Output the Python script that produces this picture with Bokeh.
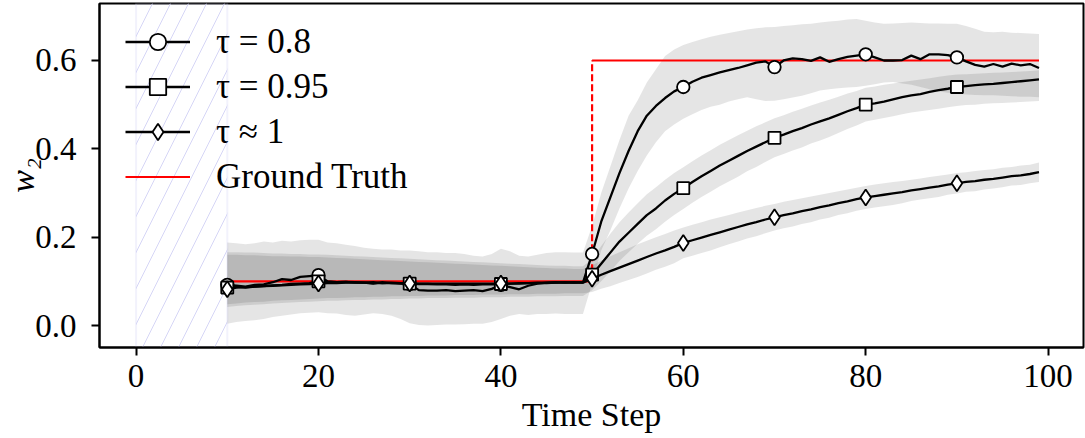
from bokeh.plotting import figure
from bokeh.models import Legend, LegendItem, BoxAnnotation, FixedTicker, Range1d
from bokeh.embed import file_html
from bokeh.resources import INLINE

# ---------------- data ----------------
steps = list(range(10, 100))
marker_every = 10
warmup_start, warmup_end = 0, 10
truth_before, truth_after, change_step, last_step = 0.1, 0.6, 50, 99

x_ticks = [0, 20, 40, 60, 80, 100]
y_ticks = [0.0, 0.2, 0.4, 0.6]

labels = ["τ = 0.8", "τ = 0.95", "τ ≈ 1", "Ground Truth"]
x_label = "Time Step"
y_label = "w₂"

mean_08 = [
    0.092, 0.090, 0.088, 0.092, 0.093, 0.098, 0.105, 0.103, 0.110, 0.112,
    0.114, 0.100, 0.098, 0.099, 0.097, 0.097, 0.095, 0.098, 0.096, 0.095,
    0.094, 0.080, 0.079, 0.079, 0.080, 0.078, 0.079, 0.080, 0.078, 0.083,
    0.092, 0.087, 0.082, 0.090, 0.095, 0.097, 0.098, 0.097, 0.098, 0.097,
    0.162, 0.235, 0.290, 0.345, 0.395, 0.440, 0.475, 0.497, 0.515, 0.530,
    0.540, 0.552, 0.561, 0.567, 0.573, 0.578, 0.583, 0.589, 0.595, 0.598,
    0.585, 0.600, 0.605, 0.603, 0.599, 0.607, 0.597, 0.603, 0.608, 0.611,
    0.614, 0.607, 0.600, 0.600, 0.601, 0.611, 0.603, 0.614, 0.614, 0.612,
    0.607, 0.598, 0.590, 0.586, 0.592, 0.586, 0.593, 0.589, 0.592, 0.583,
]
lower_08 = [
    0.004, 0.008, 0.010, 0.012, 0.015, 0.019, 0.022, 0.025, 0.028, 0.029,
    0.030, 0.028, 0.027, 0.024, 0.022, 0.025, 0.028, 0.026, 0.022, 0.015,
    0.005, 0.001, 0.000, 0.001, 0.002, 0.002, 0.003, 0.004, 0.004, 0.008,
    0.015, 0.022, 0.026, 0.024, 0.026, 0.026, 0.027, 0.026, 0.026, 0.026,
    0.095, 0.170, 0.215, 0.265, 0.310, 0.350, 0.385, 0.415, 0.440, 0.455,
    0.468, 0.478, 0.488, 0.495, 0.500, 0.507, 0.512, 0.517, 0.512, 0.508,
    0.509, 0.512, 0.516, 0.520, 0.526, 0.532, 0.535, 0.537, 0.539, 0.540,
    0.543, 0.546, 0.550, 0.551, 0.548, 0.545, 0.540, 0.535, 0.530, 0.527,
    0.525, 0.523, 0.522, 0.521, 0.521, 0.520, 0.519, 0.518, 0.518, 0.517,
]
upper_08 = [
    0.188, 0.186, 0.184, 0.186, 0.190, 0.188, 0.192, 0.190, 0.193, 0.194,
    0.194, 0.188, 0.186, 0.183, 0.180, 0.176, 0.174, 0.172, 0.172, 0.170,
    0.170, 0.168, 0.166, 0.166, 0.164, 0.164, 0.162, 0.158, 0.156, 0.162,
    0.174, 0.168, 0.158, 0.156, 0.160, 0.164, 0.166, 0.166, 0.165, 0.165,
    0.225, 0.300, 0.360, 0.420, 0.475, 0.510, 0.550, 0.580, 0.610, 0.625,
    0.635, 0.642, 0.648, 0.654, 0.658, 0.662, 0.666, 0.670, 0.673, 0.675,
    0.676, 0.678, 0.680, 0.682, 0.683, 0.686, 0.688, 0.690, 0.693, 0.694,
    0.690, 0.686, 0.683, 0.684, 0.685, 0.686, 0.685, 0.684, 0.684, 0.683,
    0.683, 0.678, 0.672, 0.665, 0.664, 0.665, 0.663, 0.662, 0.661, 0.660,
]

mean_095 = [
    0.086, 0.088, 0.086, 0.088, 0.089, 0.091, 0.092, 0.094, 0.095, 0.096,
    0.100, 0.099, 0.098, 0.099, 0.098, 0.097, 0.098, 0.096, 0.097, 0.096,
    0.095, 0.094, 0.094, 0.093, 0.093, 0.092, 0.093, 0.092, 0.093, 0.093,
    0.094, 0.095, 0.095, 0.096, 0.097, 0.097, 0.097, 0.098, 0.097, 0.098,
    0.115, 0.140, 0.165, 0.190, 0.210, 0.230, 0.250, 0.265, 0.283, 0.298,
    0.311, 0.325, 0.338, 0.350, 0.362, 0.373, 0.384, 0.395, 0.405, 0.415,
    0.425, 0.432, 0.440, 0.447, 0.455, 0.462, 0.469, 0.477, 0.485, 0.492,
    0.500, 0.503, 0.507, 0.512, 0.517, 0.521, 0.524, 0.529, 0.533, 0.536,
    0.540, 0.542, 0.544, 0.546, 0.547, 0.549, 0.551, 0.553, 0.555, 0.557,
]
lower_095 = [
    0.042, 0.044, 0.046, 0.047, 0.048, 0.050, 0.051, 0.052, 0.053, 0.054,
    0.055, 0.056, 0.056, 0.057, 0.058, 0.058, 0.059, 0.059, 0.060, 0.060,
    0.061, 0.061, 0.062, 0.062, 0.062, 0.063, 0.063, 0.063, 0.064, 0.064,
    0.064, 0.065, 0.065, 0.065, 0.066, 0.066, 0.066, 0.067, 0.067, 0.067,
    0.080, 0.100, 0.122, 0.146, 0.166, 0.185, 0.203, 0.218, 0.235, 0.250,
    0.264, 0.278, 0.291, 0.303, 0.315, 0.326, 0.337, 0.349, 0.359, 0.370,
    0.381, 0.388, 0.396, 0.403, 0.412, 0.419, 0.427, 0.436, 0.445, 0.453,
    0.462, 0.466, 0.470, 0.474, 0.478, 0.482, 0.485, 0.488, 0.491, 0.494,
    0.497, 0.499, 0.500, 0.502, 0.503, 0.504, 0.505, 0.506, 0.507, 0.508,
]
upper_095 = [
    0.166, 0.166, 0.165, 0.165, 0.164, 0.163, 0.163, 0.162, 0.162, 0.161,
    0.161, 0.160, 0.159, 0.158, 0.157, 0.156, 0.155, 0.154, 0.153, 0.152,
    0.151, 0.150, 0.149, 0.148, 0.147, 0.146, 0.145, 0.144, 0.143, 0.142,
    0.141, 0.140, 0.139, 0.138, 0.137, 0.136, 0.135, 0.135, 0.134, 0.134,
    0.150, 0.180, 0.208, 0.234, 0.256, 0.277, 0.297, 0.313, 0.330, 0.345,
    0.358, 0.372, 0.385, 0.397, 0.409, 0.420, 0.431, 0.441, 0.451, 0.460,
    0.469, 0.476, 0.484, 0.491, 0.498, 0.505, 0.511, 0.518, 0.525, 0.531,
    0.538, 0.541, 0.545, 0.548, 0.551, 0.554, 0.557, 0.560, 0.563, 0.566,
    0.568, 0.569, 0.570, 0.571, 0.572, 0.573, 0.574, 0.575, 0.576, 0.578,
]

mean_1 = [
    0.082, 0.086, 0.087, 0.088, 0.089, 0.090, 0.091, 0.092, 0.093, 0.094,
    0.095, 0.096, 0.096, 0.097, 0.097, 0.097, 0.096, 0.096, 0.096, 0.096,
    0.095, 0.095, 0.095, 0.095, 0.095, 0.095, 0.095, 0.095, 0.095, 0.095,
    0.095, 0.095, 0.096, 0.096, 0.096, 0.096, 0.097, 0.097, 0.097, 0.097,
    0.106, 0.115, 0.123, 0.131, 0.139, 0.147, 0.155, 0.163, 0.170, 0.178,
    0.187, 0.193, 0.199, 0.205, 0.211, 0.217, 0.223, 0.229, 0.234, 0.240,
    0.245, 0.250, 0.254, 0.259, 0.263, 0.268, 0.272, 0.277, 0.281, 0.286,
    0.290, 0.293, 0.296, 0.299, 0.302, 0.306, 0.309, 0.312, 0.315, 0.319,
    0.322, 0.325, 0.327, 0.330, 0.332, 0.335, 0.338, 0.340, 0.343, 0.347,
]
lower_1 = [
    0.048, 0.050, 0.052, 0.053, 0.054, 0.056, 0.057, 0.058, 0.059, 0.060,
    0.061, 0.062, 0.062, 0.063, 0.064, 0.064, 0.065, 0.065, 0.066, 0.066,
    0.067, 0.067, 0.068, 0.068, 0.068, 0.069, 0.069, 0.069, 0.070, 0.070,
    0.070, 0.071, 0.071, 0.071, 0.072, 0.072, 0.072, 0.073, 0.073, 0.073,
    0.076, 0.083, 0.089, 0.096, 0.103, 0.110, 0.118, 0.126, 0.133, 0.141,
    0.152, 0.158, 0.164, 0.170, 0.177, 0.184, 0.190, 0.197, 0.202, 0.209,
    0.215, 0.220, 0.224, 0.230, 0.234, 0.240, 0.244, 0.250, 0.254, 0.260,
    0.264, 0.267, 0.270, 0.273, 0.277, 0.282, 0.285, 0.288, 0.291, 0.296,
    0.299, 0.303, 0.304, 0.308, 0.310, 0.313, 0.317, 0.318, 0.322, 0.325,
]
upper_1 = [
    0.160, 0.160, 0.159, 0.159, 0.158, 0.157, 0.157, 0.156, 0.156, 0.155,
    0.155, 0.154, 0.153, 0.152, 0.151, 0.150, 0.149, 0.148, 0.147, 0.146,
    0.145, 0.144, 0.143, 0.142, 0.141, 0.140, 0.139, 0.138, 0.137, 0.136,
    0.135, 0.134, 0.133, 0.132, 0.131, 0.130, 0.129, 0.129, 0.128, 0.128,
    0.136, 0.147, 0.157, 0.166, 0.175, 0.184, 0.192, 0.200, 0.207, 0.215,
    0.222, 0.228, 0.234, 0.240, 0.245, 0.250, 0.256, 0.261, 0.266, 0.271,
    0.275, 0.280, 0.284, 0.288, 0.292, 0.296, 0.300, 0.304, 0.308, 0.312,
    0.316, 0.319, 0.322, 0.325, 0.327, 0.330, 0.333, 0.336, 0.339, 0.342,
    0.345, 0.347, 0.350, 0.352, 0.354, 0.357, 0.359, 0.362, 0.364, 0.369,
]

# ---------------- figure ----------------
FONT = "Liberation Serif"
X_MIN, X_MAX = -4.01, 103.88
Y_MIN, Y_MAX = -0.0498, 0.729
FRAME_W, FRAME_H = 984, 344
BORDER_L, BORDER_T = 99, 3

p = figure(width=1085, height=438,
           x_range=Range1d(X_MIN, X_MAX), y_range=Range1d(Y_MIN, Y_MAX),
           output_backend="svg", toolbar_location=None,
           min_border_left=BORDER_L, min_border_right=1085 - BORDER_L - FRAME_W,
           min_border_top=BORDER_T, min_border_bottom=438 - BORDER_T - FRAME_H)

p.grid.visible = False
p.outline_line_color = "black"
p.outline_line_width = 2
p.background_fill_color = "white"
p.border_fill_color = "white"

for ax in (p.xaxis, p.yaxis):
    ax.axis_line_color = "black"
    ax.axis_line_width = 2
    ax.major_tick_out = 8
    ax.major_tick_in = 0
    ax.major_tick_line_width = 2
    ax.minor_tick_line_color = None
    ax.major_label_text_font = FONT
    ax.major_label_text_font_size = "33px"
    ax.major_label_text_color = "black"

p.xaxis.ticker = FixedTicker(ticks=x_ticks)
p.yaxis.ticker = FixedTicker(ticks=y_ticks)
p.yaxis.major_label_overrides = {t: f"{t:.1f}" for t in y_ticks}
p.xaxis.major_label_standoff = 9
p.yaxis.major_label_standoff = 15

p.xaxis.axis_label = x_label
p.xaxis.axis_label_text_font = FONT
p.xaxis.axis_label_text_font_size = "34px"
p.xaxis.axis_label_text_font_style = "normal"
p.xaxis.axis_label_text_color = "black"
p.xaxis.axis_label_standoff = 6

p.yaxis.axis_label = y_label
p.yaxis.axis_label_text_font = FONT
p.yaxis.axis_label_text_font_size = "34px"
p.yaxis.axis_label_text_font_style = "italic"
p.yaxis.axis_label_text_color = "black"
p.yaxis.axis_label_standoff = -9

# warm-up hatched span
p.add_layout(BoxAnnotation(left=warmup_start, right=warmup_end,
                           fill_alpha=0, fill_color=None,
                           hatch_pattern="/", hatch_color="#d6d6f6",
                           hatch_scale=36, hatch_weight=1,
                           line_color="#d4d4f5", line_width=2, level="underlay"))

# uncertainty bands
for lo, hi in ((lower_08, upper_08), (lower_095, upper_095), (lower_1, upper_1)):
    p.varea(x=steps, y1=lo, y2=hi, fill_color="black", fill_alpha=0.1)

# ground truth
gt1 = p.line([steps[0], change_step], [truth_before, truth_before], line_color="red", line_width=2.2)
p.line([change_step, change_step], [truth_before, truth_after], line_color="red",
       line_width=2.2, line_dash="7 3")
p.line([change_step, last_step], [truth_after, truth_after], line_color="red", line_width=2.2)

series = [
    (mean_08, "circle", 12.5),
    (mean_095, "square", 12),
    (mean_1, "diamond", 16),
]
items = []
for (m, mk, sz), lab in zip(series, labels[:3]):
    ln = p.line(steps, m, line_color="black", line_width=2.3)
    sc = p.scatter(steps[::marker_every], m[::marker_every], marker=mk, size=sz,
                   fill_color="white", line_color="black", line_width=1.8)
    items.append(LegendItem(label=lab, renderers=[ln, sc]))
items.append(LegendItem(label=labels[3], renderers=[gt1]))

legend = Legend(items=items, location=(26, 150), padding=5, margin=0,
                glyph_width=65, glyph_height=41, label_height=41, spacing=4,
                label_standoff=26, label_text_font=FONT, label_text_font_size="35px",
                label_text_color="black", label_text_baseline="middle",
                border_line_color=None, background_fill_alpha=0)
p.add_layout(legend)

open("out.html", "w").write(file_html(p, INLINE))
